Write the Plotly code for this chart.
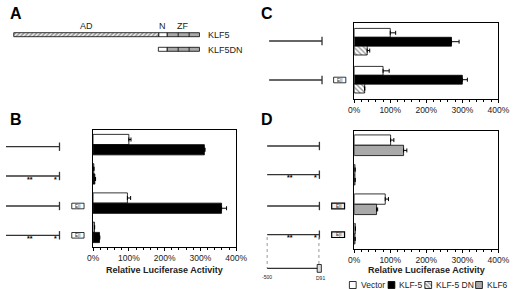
import plotly.graph_objects as go

# ---------------- data ----------------
constructs_bd = ["WT", "mut", "WT+E", "mut+E"]
constructs_c = ["WT", "WT+E"]
tick_vals = [0, 100, 200, 300, 400]
tick_text = ["0%", "100%", "200%", "300%", "400%"]

b_vector = [100, 2, 96, 4]
b_vector_err = [6, 0.5, 9, 0.5]
b_klf5 = [311, 5, 359, 18]
b_klf5_err = [2, 2, 14, 1]

c_vector = [100, 80]
c_vector_err = [15, 17]
c_klf5 = [270, 300]
c_klf5_err = [21, 14]
c_klf5dn = [36, 29]
c_klf5dn_err = [7, 0]

d_vector = [101, 2, 86, 3]
d_vector_err = [9, 0.5, 9, 0.5]
d_klf6 = [137, 2, 62, 2]
d_klf6_err = [9, 0.5, 3, 0.5]

legend_names = ["Vector", "KLF-5", "KLF-5 DN", "KLF6"]
axis_title = "Relative Luciferase Activity"

W, H = 520, 289
FONT = "Liberation Sans, Arial, sans-serif"
GRAY = "#a9a9a9"


def px(x):
    return x / W


def py(y):
    return 1 - y / H


def err(a):
    return dict(type="data", symmetric=False, array=a, arrayminus=[0] * len(a),
                color="black", thickness=1, width=2)


line = dict(color="black", width=0.8)
fig = go.Figure()

# Panel B
fig.add_trace(go.Bar(y=constructs_bd, x=b_vector, orientation="h", name=legend_names[0],
                     marker=dict(color="white", line=line), error_x=err(b_vector_err),
                     xaxis="x", yaxis="y"))
fig.add_trace(go.Bar(y=constructs_bd, x=b_klf5, orientation="h", name=legend_names[1],
                     marker=dict(color="black", line=line), error_x=err(b_klf5_err),
                     xaxis="x", yaxis="y"))
# Panel C
fig.add_trace(go.Bar(y=constructs_c, x=c_vector, orientation="h", name=legend_names[0],
                     marker=dict(color="white", line=line), error_x=err(c_vector_err),
                     xaxis="x2", yaxis="y2"))
fig.add_trace(go.Bar(y=constructs_c, x=c_klf5, orientation="h", name=legend_names[1],
                     marker=dict(color="black", line=line), error_x=err(c_klf5_err),
                     xaxis="x2", yaxis="y2"))
fig.add_trace(go.Bar(y=constructs_c, x=c_klf5dn, orientation="h", name=legend_names[2],
                     marker=dict(color="white", line=line,
                                 pattern=dict(shape="\\", fgcolor="#222", bgcolor="white",
                                              fillmode="overlay", size=3.5, solidity=0.35)),
                     error_x=err(c_klf5dn_err), xaxis="x2", yaxis="y2"))
# Panel D
fig.add_trace(go.Bar(y=constructs_bd, x=d_vector, orientation="h", name=legend_names[0],
                     marker=dict(color="white", line=line), error_x=err(d_vector_err),
                     xaxis="x3", yaxis="y3"))
fig.add_trace(go.Bar(y=constructs_bd, x=d_klf6, orientation="h", name=legend_names[3],
                     marker=dict(color=GRAY, line=line), error_x=err(d_klf6_err),
                     xaxis="x3", yaxis="y3"))

# pixel overlay: hatched AD domain in panel A + legend swatches
legend_icon_x = [355, 395, 433, 485.5]
fig.add_trace(go.Bar(
    y=[34.7, 285, 285, 285, 285], x=[150, 7, 7, 7, 7], base=[8] + legend_icon_x,
    width=[4, 7, 7, 7, 7], orientation="h",
    marker=dict(color=["#f4f4f4", "white", "black", "white", GRAY],
                line=dict(color="black", width=0.8),
                pattern=dict(shape=["/", "", "", "\\", ""], fgcolor="#444",
                             fillmode="overlay", size=3, solidity=0.55)),
    xaxis="x4", yaxis="y4", hoverinfo="skip"))


def xax(dom, anchor):
    return dict(domain=dom, anchor=anchor, range=[0, 400], tickvals=tick_vals, ticktext=tick_text,
                ticks="outside", ticklen=3, tickwidth=1, tickcolor="black",
                minor=dict(ticks="outside", ticklen=2, dtick=20, tickcolor="black"),
                showline=True, linecolor="black", linewidth=1, mirror=True,
                showgrid=False, zeroline=False, fixedrange=True,
                tickfont=dict(family=FONT, size=8.5, color="#222"))


def yax(dom, anchor):
    return dict(domain=dom, anchor=anchor, autorange="reversed", showticklabels=False,
                ticks="", showline=True, linecolor="black", linewidth=1, mirror=True,
                showgrid=False, zeroline=False, fixedrange=True)


fig.update_layout(
    width=W, height=H, margin=dict(l=0, r=0, t=0, b=0),
    paper_bgcolor="white", plot_bgcolor="rgba(0,0,0,0)",
    barmode="group", bargap=0.3, bargroupgap=0, showlegend=False,
    xaxis=xax([px(90), px(238)], "y"), yaxis=yax([py(247), py(130)], "x"),
    xaxis2=xax([px(360), px(509)], "y2"), yaxis2=yax([py(98.7), py(22.7)], "x2"),
    xaxis3=xax([px(360), px(509)], "y3"), yaxis3=yax([py(248.5), py(130.5)], "x3"),
    xaxis4=dict(domain=[0, 1], anchor="y4", range=[0, W], visible=False, fixedrange=True),
    yaxis4=dict(domain=[0, 1], anchor="x4", range=[H, 0], visible=False, fixedrange=True),
)

shapes = []
ann = []
DK = "#333"


def seg(x0, y0, x1, y1, color=DK, w=1.3, dash=None):
    d = dict(type="line", xref="x4", yref="y4", x0=x0, y0=y0, x1=x1, y1=y1,
             line=dict(color=color, width=w))
    if dash:
        d["line"]["dash"] = dash
    shapes.append(d)


def rect(x0, y0, x1, y1, fill="white", color="black", w=0.8):
    shapes.append(dict(type="rect", xref="x4", yref="y4", x0=x0, y0=y0, x1=x1, y1=y1,
                       fillcolor=fill, line=dict(color=color, width=w)))


def text(x, y, t, size=8, xanchor="center", bold=False, color="#222"):
    ann.append(dict(xref="x4", yref="y4", x=x, y=y, text=("<b>%s</b>" % t) if bold else t,
                    showarrow=False, xanchor=xanchor, yanchor="middle",
                    font=dict(family=FONT, size=size, color=color)))


# panel letters
for lx, ly, t in [(2, 13, "A"), (2, 119, "B"), (262, 13, "C"), (262, 119, "D")]:
    text(lx, ly, t, size=16, xanchor="left", bold=True, color="black")

# Panel A
rect(158, 32.7, 166.7, 36.7)
rect(166.7, 32.7, 200, 36.7, fill=GRAY)
seg(178, 32.7, 178, 36.7, "black", 0.8)
seg(189.3, 32.7, 189.3, 36.7, "black", 0.8)
rect(157.5, 47.3, 166.7, 51.3)
rect(166.7, 47.3, 200, 51.3, fill=GRAY)
seg(178, 47.3, 178, 51.3, "black", 0.8)
seg(189.3, 47.3, 189.3, 51.3, "black", 0.8)
text(83.5, 25.5, "AD", 9)
text(162, 25.5, "N", 9)
text(182, 25.5, "ZF", 9)
text(206.5, 35, "KLF5", 9, xanchor="left")
text(206.5, 49.5, "KLF5DN", 9, xanchor="left")


def construct(x0, x1, y, mut=False, enh=None, dark=False):
    seg(x0, y, x1, y)
    seg(x1, y - 4.2, x1, y + 4.2)
    if mut:
        text(x0 + 0.44 * (x1 - x0), y + 3.2, "**", 7, bold=True, color="black")
        text(x1 - 4.5, y + 3.2, "*", 7, bold=True, color="black")
    if enh is not None:
        rect(enh[0], y - 2.8, enh[1], y + 2.8, fill="#eee" if dark else "white",
             color="black", w=1.2 if dark else 0.8)
        text((enh[0] + enh[1]) / 2, y, "E|I", 4.5)


# Panel B constructs
construct(0, 55.3, 146.7)
construct(0, 55.3, 176, mut=True)
construct(0, 55.3, 206, enh=(68, 80.7))
construct(0, 55.3, 235.3, mut=True, enh=(68, 80.7))
# Panel C constructs
construct(272, 326.7, 41)
construct(272, 326.7, 80, enh=(338.7, 351.3))
# Panel D constructs
construct(270, 324, 146)
construct(270, 324, 174.7, mut=True)
construct(270, 324, 206, enh=(336.7, 350), dark=True)
construct(270, 324, 234.7, mut=True, enh=(336.7, 350), dark=True)
# promoter scale under panel D
seg(270, 237, 270, 268.3, "#999", 1, "dot")
seg(323.5, 237, 323.5, 268.3, "#999", 1, "dot")
seg(270, 268.3, 323, 268.3, DK, 1.3)
rect(321.7, 264.5, 326, 272.3, fill="#ddd", w=0.8)
text(269.5, 277, "-500", 5)
text(325, 278, "D91", 5)

# axis titles
text(164, 270, axis_title, 9, bold=True)
text(434.5, 269.5, axis_title, 9, bold=True)

# legend texts
for lx, t in zip(legend_icon_x, legend_names):
    text(lx + 9.5, 285, t, 8.5, xanchor="left")

fig.update_layout(shapes=shapes, annotations=ann)
fig.write_html("out.html", config={"displayModeBar": False},
               post_script="document.body.style.margin='0';document.body.style.overflow='hidden';")
